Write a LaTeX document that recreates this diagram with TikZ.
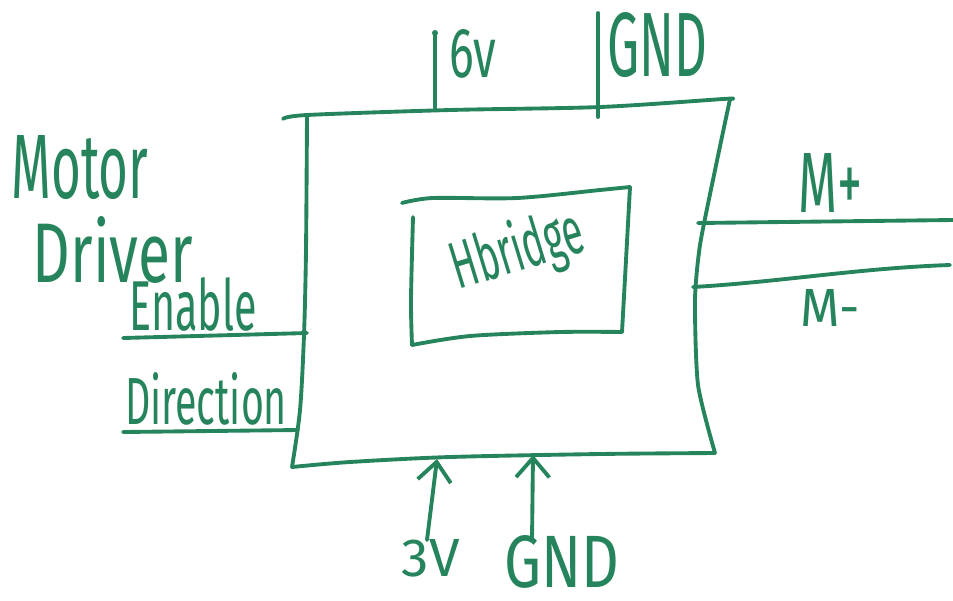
\documentclass[tikz,border=0pt]{standalone}
\usepackage{fontspec}
\setmainfont{Fira Sans}
\usepackage{graphicx}
\usetikzlibrary{arrows.meta}
\definecolor{ink}{RGB}{38,132,92}
\newlength{\px}\setlength{\px}{0.02cm}
\newcommand{\hw}[3]{\resizebox{#1\px}{#2\px}{#3}}
\begin{document}
\begin{tikzpicture}[x=0.02cm,y=-0.02cm, line width=2.2pt, draw=ink, line cap=round, line join=round,
  lbl/.style={inner sep=0pt, outer sep=0pt, text=ink},
  wire/.style={draw=ink},
  uparrow/.style={draw=ink, -{Straight Barb[length=11pt,width=19pt,line width=2.2pt]}}]
\useasboundingbox (0,0) rectangle (953,600);
% main box (motor driver)
\draw plot[smooth, tension=0.5] coordinates {(283,119) (307,115) (450,110) (600,107) (723,99) (730,99)};
\draw plot[smooth, tension=0.4] coordinates {(730,99) (714,175) (700,245) (695,300) (698,385) (715,453)};
\draw plot[smooth, tension=0.5] coordinates {(715,453) (600,454) (450,457) (350,462) (292,467)};
\draw plot[smooth, tension=0.5] coordinates {(307,115) (306,250) (304,335) (300,410) (292,467)};
% inner box (H bridge)
\draw plot[smooth, tension=0.5] coordinates {(402,203) (433,198) (517,198) (600,190) (630,187)};
\draw plot[smooth, tension=0.5] coordinates {(630,187) (626,260) (622,332)};
\draw plot[smooth, tension=0.5] coordinates {(622,332) (560,332) (470,336) (412,345)};
\draw plot[smooth, tension=0.5] coordinates {(413,217) (411,300) (412,345)};
% named connection points
\coordinate (v6top) at (435,33);
\coordinate (v6bot) at (435,108);
\coordinate (gtop) at (598,13);
\coordinate (gbot) at (598,117);
\coordinate (enL) at (123,338);
\coordinate (enR) at (307,333);
\coordinate (dirL) at (123,432);
\coordinate (dirR) at (298,430);
\coordinate (mpL) at (698,223);
\coordinate (mpR) at (953,220);
\coordinate (mmL) at (693,287);
\coordinate (mmR) at (950,265);
\coordinate (a3s) at (427,540);
\coordinate (a3e) at (437,459);
\coordinate (ags) at (532,540);
\coordinate (age) at (533,455);
% wires
\draw[wire] (v6top) -- (v6bot);
\fill[ink] (v6top) circle (3);
\draw[wire] (gtop) -- (gbot);
\draw[wire] (enL) -- (enR);
\draw[wire] (dirL) -- (dirR);
\draw[wire] (mpL) -- (mpR);
\draw[wire] (mmL) .. controls (780,282) and (860,268) .. (mmR);
\draw[uparrow] (a3s) -- (a3e);
\draw[uparrow] (ags) -- (age);
% labels
\node[lbl] (motor) at (80,168) {\hw{137}{63}{Motor}};
\node[lbl] (driver) at (113,250) {\hw{160}{66}{Driver}};
\node[lbl] (enable) at (193,304) {\hw{127}{53}{Enable}};
\node[lbl] (direction) at (206,399) {\hw{162}{52}{Direction}};
\node[lbl] (l6v) at (473,54) {\hw{47}{48}{6v}};
\node[lbl] (gndtop) at (657,45) {\hw{100}{64}{GND}};
\node[lbl] (mplus) at (830,183) {\hw{64}{59}{M+}};
\node[lbl] (mminus) at (830,308) {\hw{60}{37}{M-}};
\node[lbl] (l3v) at (431,558) {\hw{58}{37}{3V}};
\node[lbl] (gndbot) at (562,562) {\hw{115}{52}{GND}};
\node[lbl, rotate=17] (hb) at (518,252) {\hw{135}{52}{Hbridge}};
\end{tikzpicture}
\end{document}
